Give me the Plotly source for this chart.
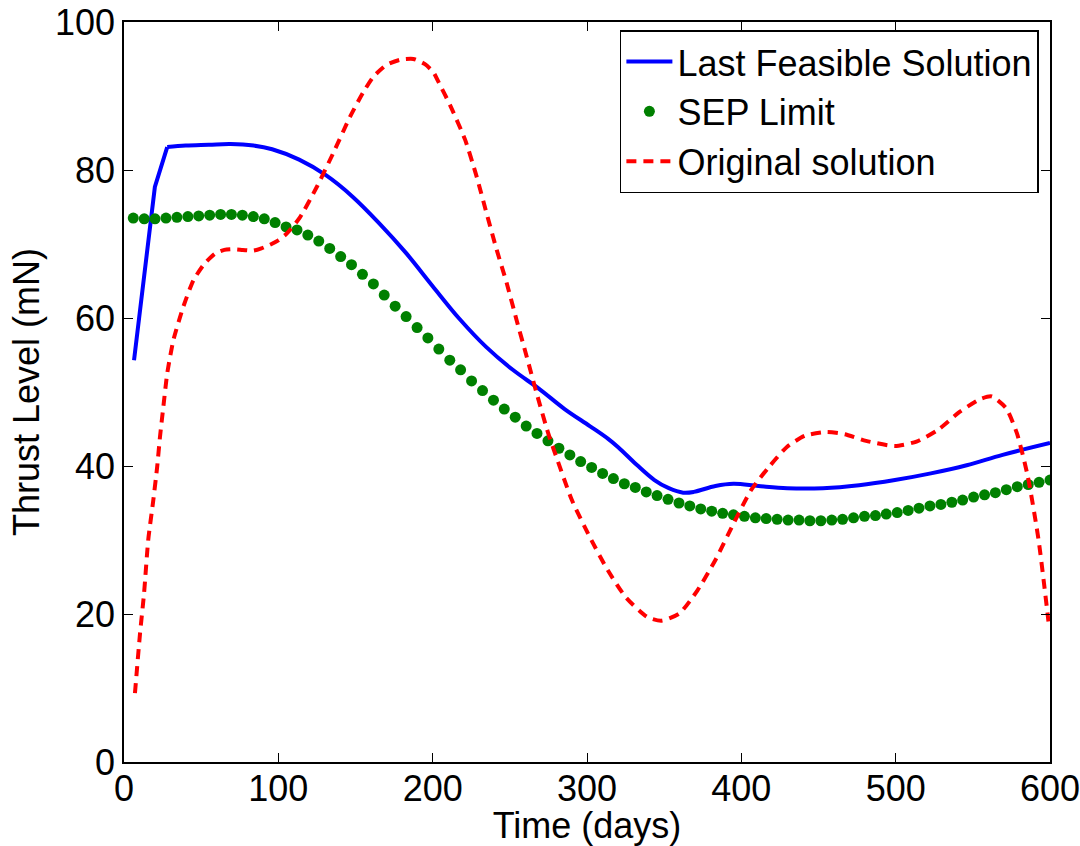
import plotly.graph_objects as go

# Last feasible solution (thrust profile, mN)
feasible_days = [6.5, 20, 28, 40, 55, 69, 84, 96, 113.5, 130.8, 148.1, 165.4, 182.7,
                 200, 217.3, 234.6, 251.9, 269.2, 285.5, 301.8, 313.5, 320.4, 332,
                 343.7, 353, 362.3, 369.2, 383.2, 394.9, 411.1, 429.7, 452.9, 476.3,
                 499.5, 522.8, 546, 569.3, 600]
feasible_thrust = [54.3, 77.7, 83.1, 83.3, 83.4, 83.5, 83.3, 82.8, 81.4, 79.3, 76.4,
                   72.8, 68.8, 64.3, 59.9, 56.1, 53.0, 50.4, 47.7, 45.4, 43.7, 42.5,
                   40.2, 38.1, 37.0, 36.4, 36.5, 37.3, 37.6, 37.3, 37.0, 37.0, 37.4,
                   38.1, 39.0, 40.1, 41.5, 43.1]

# SEP power limit, sampled every ~7 days
sep_days = [6.0, 13.1, 20.1, 27.2, 34.3, 41.4, 48.4, 55.5, 62.6, 69.6, 76.7, 83.8,
            90.9, 97.9, 105.0, 112.1, 119.1, 126.2, 133.3, 140.4, 147.4, 154.5,
            161.6, 168.6, 175.7, 182.8, 189.9, 196.9, 204.0, 211.1, 218.1, 225.2,
            232.3, 239.4, 246.4, 253.5, 260.6, 267.6, 274.7, 281.8, 288.9, 295.9,
            303.0, 310.1, 317.1, 324.2, 331.3, 338.4, 345.4, 352.5, 359.6, 366.6,
            373.7, 380.8, 387.9, 394.9, 402.0, 409.1, 416.1, 423.2, 430.3, 437.4,
            444.4, 451.5, 458.6, 465.6, 472.7, 479.8, 486.9, 493.9, 501.0, 508.1,
            515.1, 522.2, 529.3, 536.4, 543.4, 550.5, 557.6, 564.6, 571.7, 578.8,
            585.9, 592.9, 600.0]
sep_limit = [73.5, 73.4, 73.4, 73.5, 73.6, 73.7, 73.8, 73.9, 74.0, 74.0, 73.9, 73.7,
             73.4, 72.9, 72.3, 71.9, 71.2, 70.4, 69.4, 68.3, 67.2, 65.9, 64.6, 63.1,
             61.6, 60.2, 58.7, 57.3, 55.8, 54.3, 53.0, 51.5, 50.2, 48.9, 47.7, 46.6,
             45.4, 44.4, 43.4, 42.4, 41.5, 40.6, 39.8, 39.0, 38.3, 37.6, 37.1, 36.5,
             36.0, 35.5, 35.0, 34.6, 34.2, 33.9, 33.6, 33.4, 33.2, 33.0, 32.9, 32.8,
             32.7, 32.7, 32.6, 32.6, 32.7, 32.8, 33.0, 33.2, 33.3, 33.5, 33.7, 34.0,
             34.3, 34.6, 34.8, 35.1, 35.4, 35.8, 36.1, 36.4, 36.8, 37.2, 37.5, 37.8,
             38.1]

# Original (unconstrained) solution
original_days = [7.1, 10.4, 13, 15.7, 19, 21.5, 23.3, 25.5, 28, 32, 38.4, 45, 52, 59,
                 65, 70.8, 77, 83.8, 89, 94.6, 100, 105.4, 114, 124.9, 135.6, 146.5,
                 155, 161.6, 170, 178.9, 187.5, 195, 200.5, 204, 211.2, 221, 228.5,
                 235, 241.5, 248, 254.4, 260.9, 267.4, 274.9, 278.5, 290.2, 301.8,
                 313.5, 325, 339, 348.3, 360, 371.6, 383.2, 394.9, 406.5, 418, 429.7,
                 441.3, 455.3, 467, 480.8, 499.5, 513.5, 527.5, 541.4, 555.4, 562.3,
                 571.6, 578.6, 585.6, 592.6, 599]
original_thrust = [9.3, 17.4, 22.8, 30.0, 35.4, 39.9, 43.9, 48.0, 52.5, 57.0, 61.5,
                   65.1, 67.3, 68.7, 69.2, 69.3, 69.2, 69.1, 69.4, 69.9, 70.5, 71.4,
                   73.6, 77.7, 82.3, 87.2, 90.5, 92.6, 94.2, 94.9, 95.0, 94.3, 93.2,
                   91.8, 88.8, 84.1, 79.1, 74.1, 69.2, 64.7, 59.7, 54.8, 49.8, 44.4,
                   42.2, 35.4, 30.4, 25.9, 22.3, 19.6, 19.1, 20.1, 23.2, 27.3, 32.2,
                   36.8, 39.9, 42.6, 44.1, 44.6, 44.3, 43.4, 42.7, 43.3, 44.9, 47.3,
                   49.1, 49.4, 47.8, 44.4, 38.6, 30.0, 19.0]

x_ticks = [0, 100, 200, 300, 400, 500, 600]
y_ticks = [0, 20, 40, 60, 80, 100]

FONT = "Liberation Sans, Arial, Helvetica, sans-serif"

# the ramp-up (first three samples) keeps its sharp corners; the rest is smoothed
RAMP = 3

fig = go.Figure()
fig.add_trace(go.Scatter(
    x=feasible_days[:RAMP], y=feasible_thrust[:RAMP], mode="lines",
    name="Last Feasible Solution", legendgroup="feasible",
    line=dict(color="#0000FF", width=4),
))
fig.add_trace(go.Scatter(
    x=feasible_days[RAMP - 1:], y=feasible_thrust[RAMP - 1:], mode="lines",
    name="Last Feasible Solution", legendgroup="feasible", showlegend=False,
    line=dict(color="#0000FF", width=4, shape="spline", smoothing=1.0),
))
fig.add_trace(go.Scatter(
    x=sep_days, y=sep_limit, mode="markers",
    name="SEP Limit",
    marker=dict(color="#008000", size=11, line=dict(width=0)),
))
fig.add_trace(go.Scatter(
    x=original_days, y=original_thrust, mode="lines",
    name="Original solution",
    line=dict(color="#FF0000", width=4, dash="10px,7px", shape="spline", smoothing=0.6),
))

axis_common = dict(
    showgrid=False, zeroline=False,
    showline=True, linecolor="black", linewidth=1.5, mirror="ticks",
    ticks="inside", ticklen=9, tickwidth=1, tickcolor="black",
    tickfont=dict(family=FONT, size=36, color="black"),
    ticklabeloverflow="allow",
)

fig.update_layout(
    width=1080, height=846,
    margin=dict(l=124, r=30, t=22, b=84, autoexpand=False),
    paper_bgcolor="white", plot_bgcolor="white",
    font=dict(family=FONT, size=36, color="black"),
    xaxis=dict(range=[0, 600], tickvals=x_ticks, ticktext=[str(v) for v in x_ticks],
               ticklabelstandoff=-6,
               title=dict(text="Time (days)", font=dict(family=FONT, size=36), standoff=6),
               **axis_common),
    yaxis=dict(range=[0, 100], tickvals=y_ticks, ticktext=[str(v) for v in y_ticks],
               title=dict(text="Thrust Level (mN)", font=dict(family=FONT, size=36), standoff=4),
               **axis_common),
    legend=dict(
        x=0.988, y=0.989, xanchor="right", yanchor="top",
        bgcolor="white", bordercolor="black", borderwidth=1.5,
        font=dict(family=FONT, size=36, color="black"),
        tracegroupgap=0, itemwidth=46,
    ),
    showlegend=True,
)

fig.write_html("out.html")
